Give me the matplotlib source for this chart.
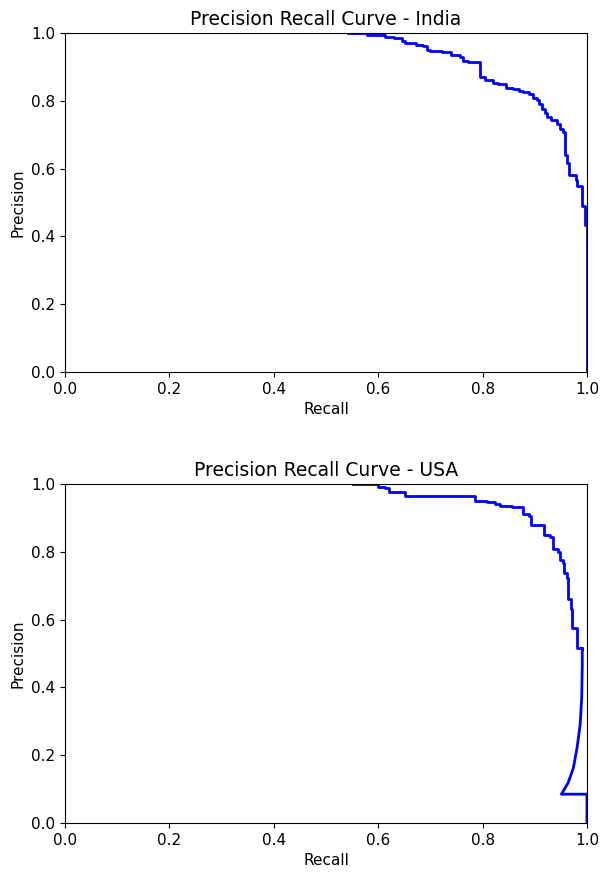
import matplotlib
matplotlib.use("Agg")
import matplotlib.pyplot as plt

plt.rcParams["font.size"] = 11
plt.rcParams["axes.titlesize"] = 13.5

# India: staircase points (recall where precision drops, new precision)
india_recall = [0.543, 0.578, 0.613, 0.630, 0.645, 0.651, 0.672, 0.686, 0.693,
                0.699, 0.722, 0.740, 0.757, 0.763, 0.773, 0.795, 0.805, 0.820,
                0.830, 0.845, 0.859, 0.870, 0.878, 0.888, 0.897, 0.905, 0.909,
                0.913, 0.920, 0.923, 0.932, 0.942, 0.948, 0.955, 0.957, 0.958,
                0.962, 0.966, 0.979, 0.981, 0.990, 0.996, 1.0]
india_precision = [1.0, 0.994, 0.990, 0.985, 0.978, 0.972, 0.966, 0.961, 0.951,
                   0.946, 0.943, 0.936, 0.930, 0.919, 0.916, 0.871, 0.861, 0.853,
                   0.850, 0.838, 0.834, 0.830, 0.826, 0.819, 0.810, 0.802, 0.791,
                   0.775, 0.765, 0.753, 0.743, 0.732, 0.716, 0.709, 0.679, 0.640,
                   0.616, 0.581, 0.566, 0.549, 0.490, 0.434, 0.0]

# USA: staircase part
usa_recall = [0.552, 0.600, 0.613, 0.621, 0.651, 0.785, 0.808, 0.824, 0.833,
              0.856, 0.877, 0.888, 0.892, 0.918, 0.929, 0.934, 0.945, 0.948,
              0.955, 0.956, 0.962, 0.964, 0.969, 0.971, 0.980, 0.981, 0.991]
usa_precision = [1.0, 0.992, 0.988, 0.976, 0.966, 0.951, 0.948, 0.943, 0.937,
                 0.932, 0.913, 0.906, 0.879, 0.851, 0.844, 0.808, 0.800, 0.776,
                 0.767, 0.737, 0.724, 0.662, 0.632, 0.576, 0.569, 0.517, 0.515]
# USA: smooth tail at high recall
usa_tail_recall = [0.991, 0.991, 0.990, 0.987, 0.981, 0.974, 0.964, 0.951, 1.0, 1.0]
usa_tail_precision = [0.515, 0.468, 0.373, 0.291, 0.222, 0.163, 0.119, 0.085, 0.085, 0.0]

fig = plt.figure(figsize=(6, 8.73), dpi=100)
ax1 = fig.add_axes((0.1083, 0.574, 0.870, 0.388))
ax2 = fig.add_axes((0.1083, 0.0573, 0.870, 0.388))

ax1.step(india_recall, india_precision, where="post", color="blue", lw=2)
ax2.step(usa_recall, usa_precision, where="post", color="blue", lw=2)
ax2.plot(usa_tail_recall, usa_tail_precision, color="blue", lw=2)

for ax, name in [(ax1, "India"), (ax2, "USA")]:
    ax.set_xlim(0, 1)
    ax.set_ylim(0, 1)
    ax.set_xlabel("Recall")
    ax.set_ylabel("Precision")
    ax.set_title("Precision Recall Curve - " + name)

fig.savefig("out.png", dpi=100)
